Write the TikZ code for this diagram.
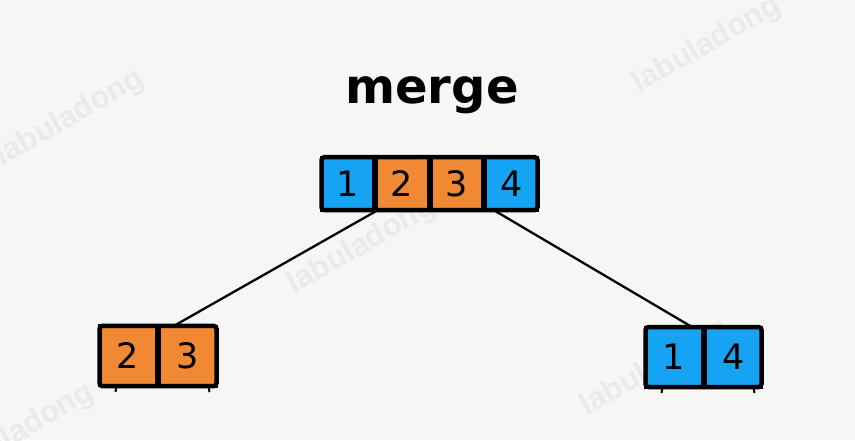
\documentclass[tikz,border=0pt]{standalone}
\usepackage{fontspec}
\setmainfont{DejaVu Sans}
\newfontfamily\markfont{Liberation Sans}
\usepackage{tikz}
\usetikzlibrary{matrix, positioning}

\definecolor{paper}{RGB}{246,246,244}
\definecolor{cellblue}{RGB}{22,163,244}
\definecolor{cellorange}{RGB}{240,136,52}
\definecolor{markgray}{RGB}{234,234,232}

\tikzset{
  cell/.style={draw=black, line width=3pt, outer sep=0pt, inner sep=0pt,
    font=\fontsize{35}{35}\selectfont},
  bluecell/.style={cell, fill=cellblue},
  orangecell/.style={cell, fill=cellorange},
  frame/.style={draw=black, line width=4.5pt, rounded corners=3pt},
  link/.style={draw=black, line width=2.3pt},
  foot/.style={draw=black, line width=2pt},
  watermark/.style={text=markgray, rotate=30,
    font=\markfont\bfseries\fontsize{31}{31}\selectfont},
}

\begin{document}
\begin{tikzpicture}[x=1pt, y=-1pt]
  \fill[paper] (0,0) rectangle (855,440);
  \useasboundingbox (0,0) rectangle (855,440);

  % faint watermarks
  \node[watermark] (wm1) at (70,118) {labuladong};
  \node[watermark] (wm2) at (707,45) {labuladong};
  \node[watermark] (wm3) at (362,246) {labuladong};
  \node[watermark] (wm4) at (655,368) {labuladong};
  \node[watermark] (wm5) at (20,432) {labuladong};

  \node[font=\bfseries\fontsize{48}{48}\selectfont] (title) at (432,95) {merge};

  \matrix (top) [matrix of nodes, column sep=0pt,
      nodes={minimum width=51.75pt, minimum height=53pt}] at (429.5,183.5) {
    |[bluecell]| 1 & |[orangecell]| 2 & |[orangecell]| 3 & |[bluecell]| 4 \\
  };
  \matrix (left) [matrix of nodes, column sep=0pt,
      nodes={minimum width=57pt, minimum height=60pt}] at (158,356) {
    |[orangecell]| 2 & |[orangecell]| 3 \\
  };
  \matrix (right) [matrix of nodes, column sep=0pt,
      nodes={minimum width=56.5pt, minimum height=60pt}] at (703.5,357) {
    |[bluecell]| 1 & |[bluecell]| 4 \\
  };

  \draw[frame] (top-1-1.north west) rectangle (top-1-4.south east);
  \draw[frame] (left-1-1.north west) rectangle (left-1-2.south east);
  \draw[frame] (right-1-1.north west) rectangle (right-1-2.south east);

  \draw[link] ([xshift=2pt]top-1-2.south west) -- ([xshift=14pt]left-1-2.north west);
  \draw[link] ([xshift=8pt]top-1-4.south west) -- ([xshift=-13pt]right-1-2.north west);

  \draw[foot] ([xshift=17pt]left-1-1.south west) -- ++(-1,6);
  \draw[foot] ([xshift=-8pt]left-1-2.south east) -- ++(1,6);
  \draw[foot] ([xshift=17pt]right-1-1.south west) -- ++(-1,6);
  \draw[foot] ([xshift=-8pt]right-1-2.south east) -- ++(1,6);
\end{tikzpicture}
\end{document}
